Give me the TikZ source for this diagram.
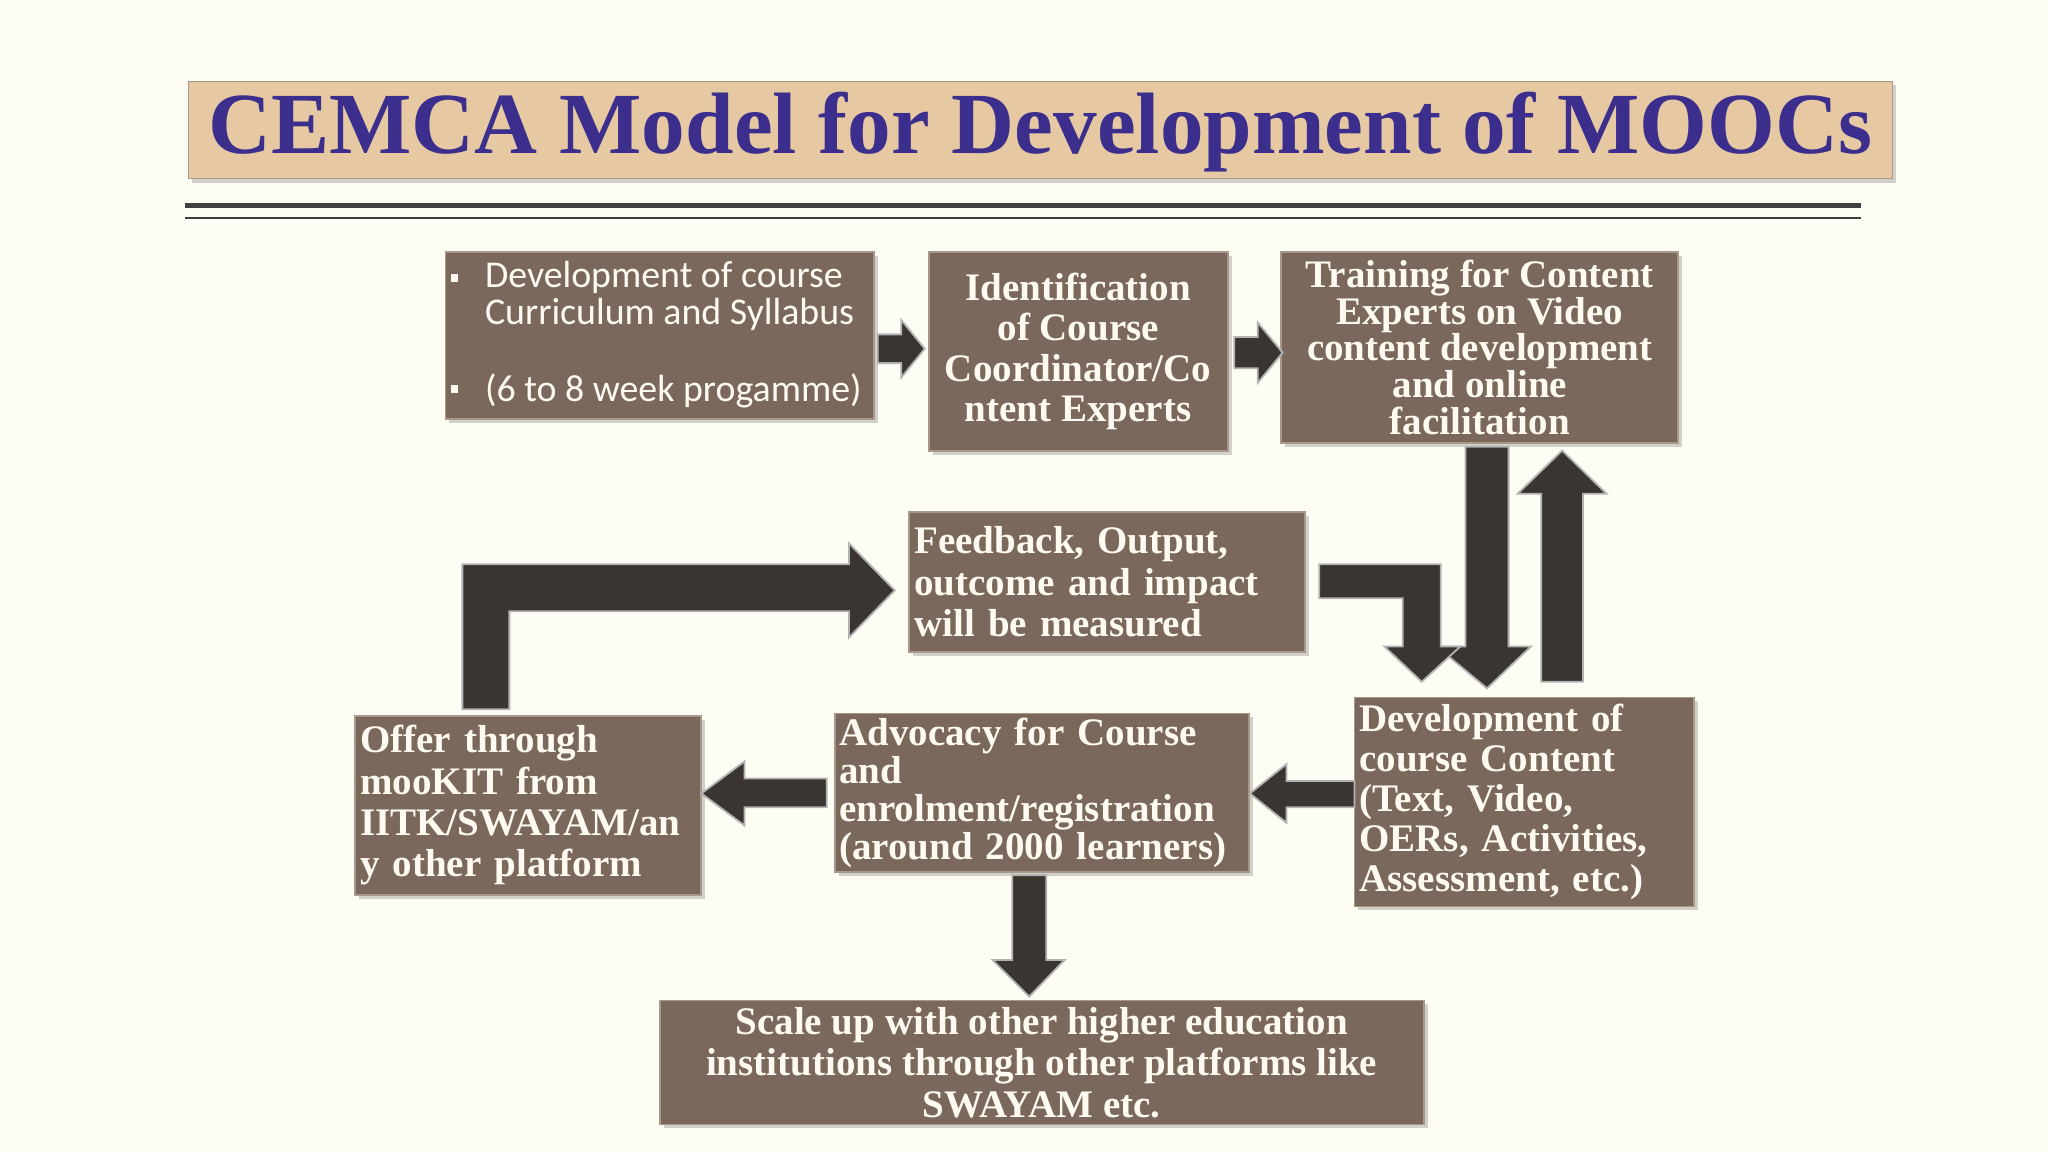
\documentclass[tikz,border=0pt]{standalone}
\usepackage{fontspec}
\setmainfont{Liberation Serif}
\newfontfamily\bodysans{Carlito}
\usetikzlibrary{shadows}
\definecolor{bg}{HTML}{FDFDF3}
\definecolor{boxc}{HTML}{7A685C}
\definecolor{boxe}{HTML}{A8988A}
\definecolor{txt}{HTML}{FFFAF0}
\definecolor{titc}{HTML}{3B2E8C}
\definecolor{band}{HTML}{E6C9A2}
\definecolor{arr}{HTML}{3A3531}
\tikzset{
 box/.style={draw=boxe, line width=0.8pt, fill=boxc, text=txt, font=\fontsize{17}{17.5}\selectfont\bfseries, inner sep=2pt, drop shadow={opacity=0.35, shadow xshift=0.6mm, shadow yshift=-0.6mm}},
 barrow/.style={fill=arr, draw=gray!60, line width=0.8pt, line join=miter},
 bullet/.style={fill=txt, minimum size=1.2mm, inner sep=0pt},
}
\begin{document}
\begin{tikzpicture}[x=0.02cm,y=-0.02cm]
\fill[bg] (0,0) rectangle (1568,882);
\useasboundingbox (0,0) rectangle (1568,882);
% title
\node[draw=boxe, fill=band, minimum width=26.1cm, minimum height=1.5cm, drop shadow={opacity=0.35, shadow xshift=0.6mm, shadow yshift=-0.6mm}] (title) at (796.5,99.5) {};
\node[text=titc, font=\fontsize{38}{40}\selectfont\bfseries] (titletext) at (796.5,101) {CEMCA Model for Development of MOOCs};
\draw[line width=2.2pt, color=black!75] (142,157) -- (1425,157);
\draw[line width=0.8pt, color=black!75] (142,167) -- (1425,167);
% boxes
\node[box, minimum width=6.56cm, minimum height=2.56cm] (b1) at (505,257) {};
\node[bullet] (bl1) at (348,213) {};
\node[bullet] (bl2) at (348,298) {};
\node[anchor=north west, text=txt, align=left, font=\bodysans\fontsize{16.5}{16}\selectfont, inner sep=0pt] (b1t) at (371,200) {Development of course\\Curriculum and Syllabus};
\node[anchor=west, text=txt, font=\bodysans\fontsize{16.5}{16}\selectfont, inner sep=0pt] (b1t2) at (371,299) {(6 to 8 week progamme)};
\node[box, minimum width=4.58cm, minimum height=3.04cm, align=center] (b2) at (825.5,269) {Identification\\of Course\\Coordinator/Co\\ntent Experts};
\node[box, minimum width=6.08cm, minimum height=2.92cm, align=center, font=\fontsize{17}{16}\selectfont\bfseries] (b3) at (1133,266) {Training for Content\\Experts on Video\\content development\\and online\\facilitation};
\node[box, minimum width=6.06cm, minimum height=2.14cm, text width=5.9cm, align=left, font=\fontsize{17}{18}\selectfont\bfseries] (fb) at (847.5,445.5) {Feedback, Output,\\outcome and impact\\will be measured};
\node[box, minimum width=5.2cm, minimum height=3.2cm, text width=5.05cm, align=left] (dev) at (1167,614) {Development of\\course Content\\(Text, Video,\\OERs, Activities,\\Assessment, etc.)};
\node[box, minimum width=6.34cm, minimum height=2.36cm, text width=6.2cm, align=left, font=\fontsize{17}{16.5}\selectfont\bfseries] (adv) at (797.5,607) {Advocacy for Course\\and\\enrolment/registration\\(around 2000 learners)};
\node[box, minimum width=5.3cm, minimum height=2.74cm, text width=5.15cm, align=left, font=\fontsize{17}{18}\selectfont\bfseries] (off) at (404.5,616.5) {Offer through\\mooKIT from\\IITK/SWAYAM/an\\y other platform};
\node[box, minimum width=11.7cm, minimum height=1.9cm, align=center, font=\fontsize{17}{18}\selectfont\bfseries] (sc) at (797.5,813.5) {Scale up with other higher education\\institutions through other platforms like\\SWAYAM etc.};
% arrows
\draw[barrow] (672,256) -- (690,256) -- (690,245) -- (708,267) -- (690,289) -- (690,278) -- (672,278) -- cycle;
\draw[barrow] (945,258) -- (963,258) -- (963,247) -- (982,270) -- (963,293) -- (963,282) -- (945,282) -- cycle;
\draw[barrow] (1122,342) -- (1155,342) -- (1155,495) -- (1172,495) -- (1138.5,527) -- (1100,495) -- (1122,495) -- cycle;
\draw[barrow] (1180,522) -- (1212,522) -- (1212,378) -- (1230,378) -- (1196,345) -- (1162,378) -- (1180,378) -- cycle;
\draw[barrow] (1010,432) -- (1103,432) -- (1103,495) -- (1118,495) -- (1088.5,522) -- (1060,495) -- (1074,495) -- (1074,458) -- (1010,458) -- cycle;
\draw[barrow] (354,543) -- (354,432) -- (650,432) -- (650,416) -- (685,452) -- (650,488) -- (650,468) -- (390,468) -- (390,543) -- cycle;
\draw[barrow] (1037,598) -- (985,598) -- (985,585) -- (957,607.5) -- (985,630) -- (985,618) -- (1037,618) -- cycle;
\draw[barrow] (633,596) -- (570,596) -- (570,583) -- (537,607.5) -- (570,632) -- (570,618) -- (633,618) -- cycle;
\draw[barrow] (775,670) -- (801,670) -- (801,735) -- (815,735) -- (788,763) -- (760,735) -- (775,735) -- cycle;
\end{tikzpicture}
\end{document}
